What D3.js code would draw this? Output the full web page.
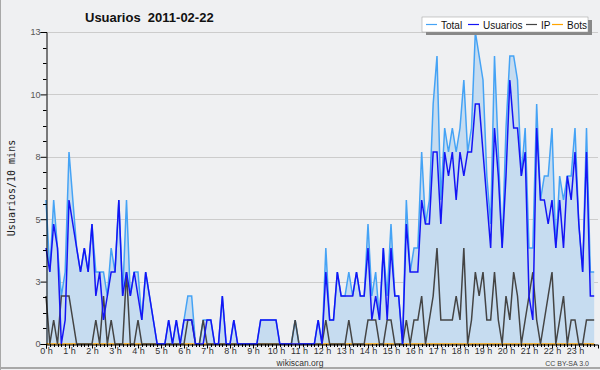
<!DOCTYPE html>
<html><head><meta charset="utf-8">
<script src="https://cdn.jsdelivr.net/npm/d3@7"></script>
<style>html,body{margin:0;padding:0;background:#eff0f2;}svg{display:block;}</style>
</head><body>
<svg id="c" width="600" height="370"></svg>
<script>
const title = "Usuarios  2011-02-22";
const yLabel = "Usuarios/10 mins";
const seriesNames = ["Total","Usuarios","IP","Bots"];
const hourLabels = d3.range(24).map(h => h + " h");
const yTickValues = [0, 2.6, 5.2, 7.8, 10.4, 13];
const yTickLabels = ["0","3","5","8","10","13"];
// one value per 10 minutes, 144 per series
const usuarios = [4,3,5,4,0,1,6,5,4,3,4,3,5,2,3,1,2,3,3,6,2,3,2,3,2,1,3,2,1,0,
  0,0,1,0,1,0,1,1,1,0,0,0,1,1,0,0,2,0,0,1,0,0,0,0,0,0,1,1,1,1,
  1,0,0,0,0,0,0,0,0,0,0,1,0,3,1,1,3,2,2,2,2,3,2,2,4,1,2,1,4,1,
  4,2,2,0,5,3,3,3,6,5,5,8,8,5,8,7,8,6,8,7,8,8,10,10,8,6,4,9,7,4,
  7,11,9,9,7,8,2,1,9,6,6,5,6,4,6,4,7,6,8,5,3,8,2,2];
const ip = [2,0,1,0,2,2,2,1,0,0,0,0,0,1,0,2,0,1,0,0,0,3,0,0,1,0,0,0,0,0,
  0,0,0,0,0,0,0,1,1,0,0,1,0,0,0,0,0,0,0,0,0,0,0,0,0,0,0,0,0,0,
  0,0,0,0,0,1,0,0,0,0,0,0,0,1,0,0,0,0,0,1,0,0,0,0,1,1,1,0,0,1,
  1,0,0,0,1,0,1,1,2,0,1,2,4,1,1,1,1,2,1,4,0,1,3,2,3,1,1,3,1,0,
  2,1,3,2,0,1,2,3,1,0,1,2,3,0,1,2,0,1,1,0,0,1,1,1];
const total = [6,3,6,4,2,3,8,6,4,3,4,3,5,3,3,3,2,4,3,6,2,6,2,3,3,1,3,2,1,0,
  0,0,1,0,1,0,1,2,2,0,0,1,1,1,0,0,2,0,0,1,0,0,0,0,0,0,1,1,1,1,
  1,0,0,0,0,1,0,0,0,0,0,1,0,4,1,1,3,2,2,3,2,3,2,2,5,2,3,1,4,2,
  5,2,2,0,6,3,4,4,8,5,6,10,12,6,9,8,9,8,9,11,8,9,13,12,11,7,5,12,8,4,
  9,12,12,11,7,9,4,4,10,6,7,7,9,4,7,6,7,7,9,5,3,9,3,3];
const bots = new Array(144).fill(0);

const colors = {Total:"#45a3f5", Usuarios:"#1414f5", IP:"#444444", Bots:"#ffa500"};
const FONT = "Liberation Sans, Arial, sans-serif";

const svg = d3.select("#c");
svg.append("rect").attr("x",0).attr("y",0).attr("width",600).attr("height",370).attr("fill","#eff0f2");
svg.append("line").attr("x1",0.5).attr("x2",0.5).attr("y1",0).attr("y2",370).attr("stroke","#a8a8a8");
svg.append("line").attr("x1",0).attr("x2",600).attr("y1",368).attr("y2",368).attr("stroke","#a8a8a8").attr("stroke-width",2);

const x = d3.scaleLinear().domain([0,144]).range([46,598]);
const y = d3.scaleLinear().domain([0,13]).range([344,32]);

// grid
svg.append("g").selectAll("line").data(yTickValues.slice(1)).join("line")
  .attr("x1",46).attr("x2",598).attr("y1",d=>Math.round(y(d))+0.5).attr("y2",d=>Math.round(y(d))+0.5)
  .attr("stroke","#cccccc");

// area
const idx = d3.range(144);
svg.append("path").datum(idx)
  .attr("d", d3.area().x(i=>x(i)).y0(y(0)).y1(i=>y(total[i])))
  .attr("fill","#c6dcf0");

const lineGen = arr => d3.line().x(i=>x(i)).y(i=>y(arr[i]));
[["Bots",bots],["Total",total],["IP",ip],["Usuarios",usuarios]].forEach(([n,arr])=>{
  svg.append("path").datum(idx).attr("d", lineGen(arr)(idx))
    .attr("fill","none").attr("stroke",colors[n]).attr("stroke-width",1.5).attr("stroke-linejoin","miter");
});

// y axis
const yAxis = d3.axisLeft(y).tickValues(yTickValues).tickSize(6).tickFormat((d,i)=>yTickLabels[i]);
const gy = svg.append("g").attr("transform","translate(46.5,0)").call(yAxis);
gy.select(".domain").attr("stroke","#000");
gy.selectAll("text").attr("font-family",FONT).attr("font-size","9px").attr("fill","#555").attr("x",-6);
const yMinor = d3.range(0,13.001,0.65).filter(v=>!yTickValues.some(t=>Math.abs(t-v)<1e-6));
svg.append("g").selectAll("line").data(yMinor).join("line")
  .attr("x1",43).attr("x2",46.5).attr("y1",d=>Math.round(y(d))+0.5).attr("y2",d=>Math.round(y(d))+0.5).attr("stroke","#000");

// x axis
const xAxis = d3.axisBottom(x).tickValues(d3.range(0,144,6)).tickSize(4).tickFormat((d,i)=>hourLabels[i]);
const gx = svg.append("g").attr("transform","translate(0,344.5)").call(xAxis);
gx.select(".domain").attr("stroke","#000");
gx.selectAll("text").attr("font-family",FONT).attr("font-size","9px").attr("fill","#333").attr("y",9.5).attr("dy","0");
svg.append("g").selectAll("line").data(d3.range(144).filter(i=>i%6)).join("line")
  .attr("x1",i=>Math.round(x(i))+0.5).attr("x2",i=>Math.round(x(i))+0.5).attr("y1",344).attr("y2",347).attr("stroke","#000");

// title
svg.append("text").attr("x",85).attr("y",22).text(title)
  .attr("font-family",FONT).attr("font-weight","bold").attr("font-size","13px").attr("fill","#111")
  .style("white-space","pre");

// y label
svg.append("text").attr("transform","translate(15,188) rotate(-90)").attr("text-anchor","middle").text(yLabel)
  .attr("font-family","DejaVu Sans Mono, monospace").attr("font-size","10px").attr("fill","#222");

// footer
svg.append("text").attr("x",300).attr("y",365.5).attr("text-anchor","middle").text("wikiscan.org")
  .attr("font-family",FONT).attr("font-size","8.5px").attr("fill","#333");
svg.append("text").attr("x",589).attr("y",365.5).attr("text-anchor","end").text("CC BY-SA 3.0")
  .attr("font-family",FONT).attr("font-size","7px").attr("fill","#444");

// legend
const lg = svg.append("g");
lg.append("rect").attr("x",426).attr("y",20).attr("width",166).attr("height",15).attr("fill","#888");
lg.append("rect").attr("x",422).attr("y",17).attr("width",166).attr("height",15).attr("fill","#fff").attr("stroke","#999").attr("stroke-width",0.5);
const legX = [426, 468, 526, 552];
seriesNames.forEach((n,k)=>{
  lg.append("line").attr("x1",legX[k]).attr("x2",legX[k]+11).attr("y1",24.5).attr("y2",24.5).attr("stroke",colors[n]).attr("stroke-width",1.2);
  lg.append("text").attr("x",legX[k]+15).attr("y",28.5).text(n)
    .attr("font-family",FONT).attr("font-size","10px").attr("fill","#111");
});
</script>
</body></html>
